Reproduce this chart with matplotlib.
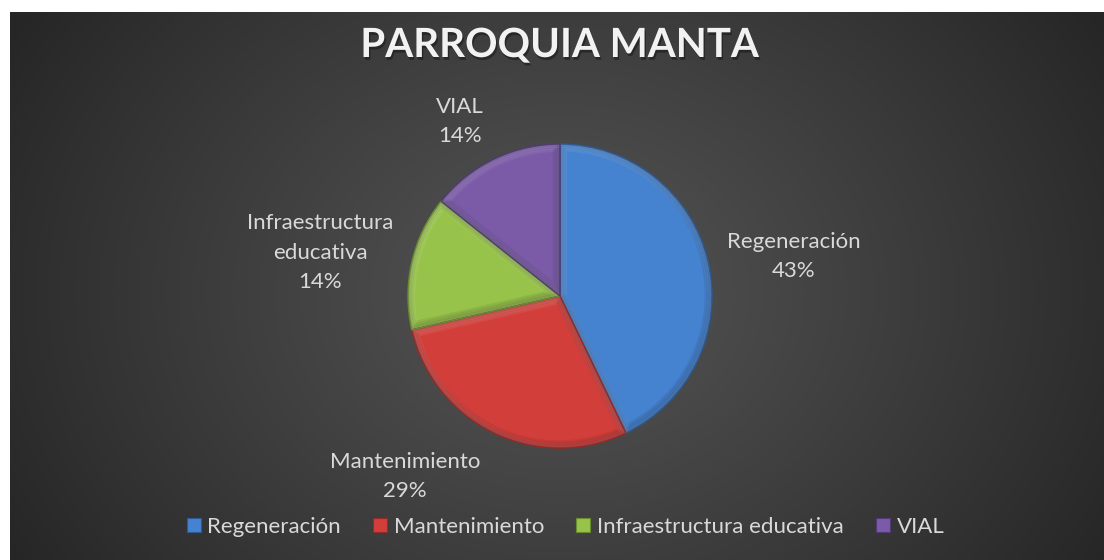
import numpy as np
import matplotlib
matplotlib.use("Agg")
import matplotlib.pyplot as plt
import matplotlib.patheffects as pe
from matplotlib.patches import Rectangle, Wedge

# ---- data ----
title = "PARROQUIA MANTA"
categories = ["Regeneración", "Mantenimiento", "Infraestructura educativa", "VIAL"]
label_texts = ["Regeneración", "Mantenimiento", "Infraestructura\neducativa", "VIAL"]
values = [3, 2, 1, 1]
colors = ["#4582d0", "#d23f3b", "#98c34b", "#7b5aa8"]
edge_colors = ["#2c5a96", "#962a27", "#6a8c30", "#513a76"]

# label anchor offsets (pixels from pie centre, x right / y up), last-line baseline
label_offsets = [(234, 19), (-155, -201), (-240, 8), (-100, 154)]

W, H = 1104, 560
fig = plt.figure(figsize=(W / 100, H / 100), dpi=100)
fig.patch.set_facecolor("white")

# background with radial gradient (chart area, white margin top/left)
bg = fig.add_axes([10 / W, 0, 1 - 10 / W, (H - 12) / H])
bg.set_axis_off()
yy, xx = np.mgrid[0:548, 0:1094]
cx, cy = 550, 280
d = np.sqrt(((xx - cx) / 640) ** 2 + ((yy - cy) / 520) ** 2)
d = np.clip(d, 0, 1) ** 1.1
light = np.array([0x54, 0x54, 0x54]) / 255
dark = np.array([0x26, 0x26, 0x26]) / 255
img = light[None, None, :] * (1 - d[..., None]) + dark[None, None, :] * d[..., None]
bg.imshow(img, aspect="auto", extent=[0, 1, 0, 1], origin="upper")
bg.set_xlim(0, 1)
bg.set_ylim(0, 1)

# main axes in pixel coordinates
ax = fig.add_axes([0, 0, 1, 1])
ax.patch.set_alpha(0)

font = ["Lato", "DejaVu Sans"]
cx_p, cy_p, r = 560, H - 296, 152

wedges, _ = ax.pie(values, colors=colors, startangle=90, counterclock=False,
                   center=(cx_p, cy_p), radius=r, frame=True,
                   wedgeprops=dict(linewidth=0))
# soft bevel: graded highlight on upper inner edges, shade on lower inner edges
for w, ec in zip(wedges, edge_colors):
    (wx, wy) = w.center
    for lw in (9, 6, 3):
        hi = Wedge((wx + 1.0, wy - 1.5), w.r, w.theta1, w.theta2, facecolor="none",
                   edgecolor="white", linewidth=lw, alpha=0.06)
        sh = Wedge((wx - 1.0, wy + 1.5), w.r, w.theta1, w.theta2, facecolor="none",
                   edgecolor="black", linewidth=lw, alpha=0.07)
        for p in (hi, sh):
            ax.add_patch(p)
            p.set_clip_path(w)
    edge = Wedge((wx, wy), w.r, w.theta1, w.theta2, facecolor="none",
                 edgecolor=ec, linewidth=1.0)
    ax.add_patch(edge)
ax.set_xlim(0, W)
ax.set_ylim(0, H)
ax.set_axis_off()

total = sum(values)
for lab, v, (ox, oy) in zip(label_texts, values, label_offsets):
    pct = f"{round(100 * v / total)}%"
    ax.text(cx_p + ox, cy_p + oy, f"{lab}\n{pct}", ha="center", va="baseline",
            color="#d9d9d9", fontsize=16, family=font, linespacing=1.58,
            multialignment="center")

ax.text(559.5, H - 57, title, ha="center", va="baseline", color="#f2f2f2",
        fontsize=29, fontweight="bold", family=font,
        path_effects=[pe.withSimplePatchShadow(offset=(1, -2), shadow_rgbFace="black", alpha=0.35)])

handles = [Rectangle((0, 0), 1, 1, facecolor=c, edgecolor=e, linewidth=0.8)
           for c, e in zip(colors, edge_colors)]
leg = fig.legend(handles, categories, loc="center", bbox_to_anchor=(565.5 / W, 33 / H),
                 ncol=4, frameon=False, handlelength=0.63, handleheight=0.6,
                 handletextpad=0.3, columnspacing=1.45,
                 prop=dict(family=font, size=16))
for t in leg.get_texts():
    t.set_color("#d9d9d9")

fig.savefig("out.png", dpi=100, facecolor=fig.get_facecolor())
